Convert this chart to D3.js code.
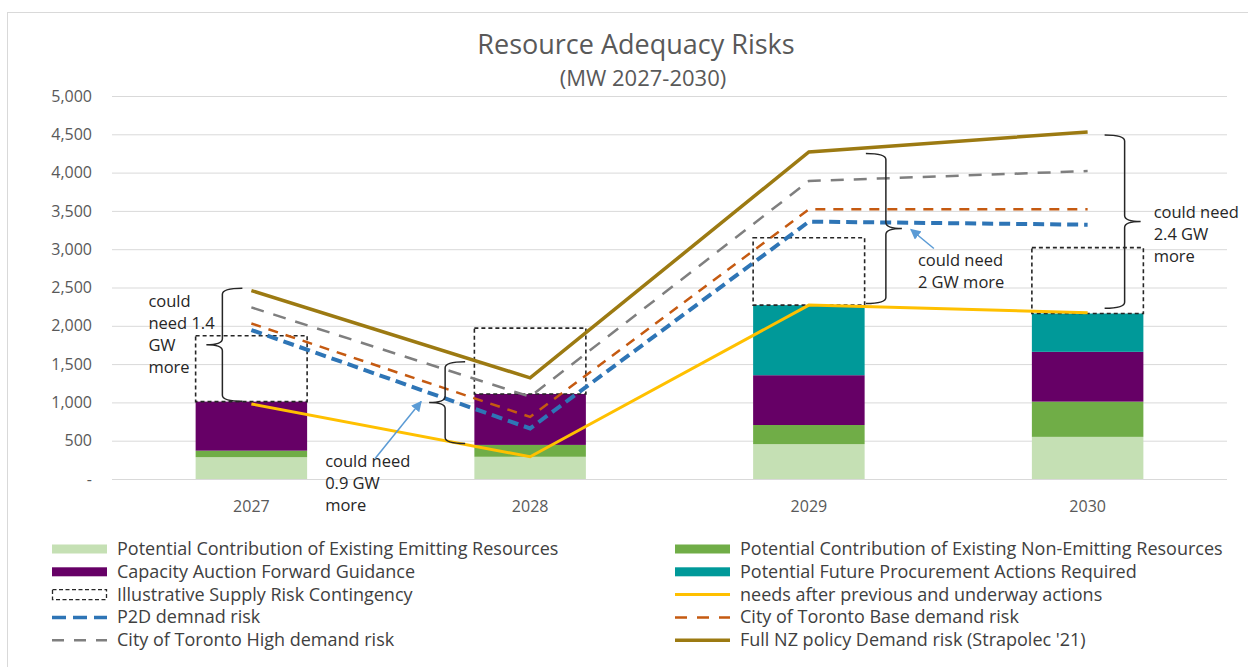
<!DOCTYPE html>
<html>
<head>
<meta charset="utf-8">
<script src="https://cdn.jsdelivr.net/npm/d3@7"></script>
<style>
  body { margin: 0; background: #fff; }
  text { font-family: "Open Sans", "DejaVu Sans", sans-serif; }
</style>
</head>
<body>
<div id="chart"></div>
<script>
// data (MW)
const years = ["2027", "2028", "2029", "2030"];
const emitting = [285, 290, 455, 550];
const nonEmitting = [85, 155, 250, 460];
const auctionGuidance = [640, 665, 650, 650];
const futureProcurement = [0, 0, 915, 500];
const contingency = [860, 860, 880, 860];
const needsAfter = [980, 290, 2270, 2170];
const p2dRisk = [1945, 660, 3360, 3320];
const torontoBase = [2030, 810, 3520, 3520];
const torontoHigh = [2240, 1075, 3890, 4020];
const fullNZ = [2460, 1320, 4270, 4530];
const yTicks = [0, 500, 1000, 1500, 2000, 2500, 3000, 3500, 4000, 4500, 5000];

// brace annotations
const braceYears = ["2027", "2028", "2029", "2030"];
const braceLow = [1015, 465, 2290, 2230];
const braceHigh = [2490, 1530, 4250, 4490];
const braceNotes = [
  ["could", "need 1.4", "GW", "more"],
  ["could need", "0.9 GW", "more"],
  ["could need", "2 GW more"],
  ["could need", "2.4 GW", "more"]
];

const W = 1248, H = 667;
const svg = d3.select("#chart").append("svg")
    .attr("width", W)
    .attr("height", H);

// outer frame
svg.append("rect")
    .attr("x", 7.5).attr("y", 12.5)
    .attr("width", W).attr("height", H)
    .attr("fill", "#fff")
    .attr("stroke", "#d9d9d9");

const x = d3.scaleBand()
    .domain(years)
    .range([112, 1227])
    .paddingInner(0.6)
    .paddingOuter(0.3);

const y = d3.scaleLinear()
    .domain([0, 5000])
    .range([479, 96]);

const cx = yr => x(yr) + x.bandwidth() / 2;

// title
svg.append("text")
    .attr("x", 636).attr("y", 54)
    .attr("text-anchor", "middle")
    .style("font-size", "27px")
    .style("fill", "#595959")
    .text("Resource Adequacy Risks");
svg.append("text")
    .attr("x", 643).attr("y", 86)
    .attr("text-anchor", "middle")
    .style("font-size", "22px")
    .style("fill", "#595959")
    .text("(MW 2027-2030)");

// grid + y axis
const yAxis = svg.append("g")
    .attr("transform", "translate(112,0)")
    .call(d3.axisLeft(y)
        .tickValues(yTicks)
        .tickSize(-1115)
        .tickPadding(20)
        .tickFormat(d => d === 0 ? "-" : d3.format(",")(d)));
yAxis.select(".domain").remove();
yAxis.selectAll("line").attr("stroke", "#d9d9d9");
yAxis.selectAll("text")
    .style("font-size", "16px")
    .style("fill", "#595959")
    .style("font-family", "'Open Sans', sans-serif");

// x axis labels
const xAxis = svg.append("g")
    .attr("transform", "translate(0,479)")
    .call(d3.axisBottom(x).tickSize(0).tickPadding(22));
xAxis.select(".domain").remove();
xAxis.selectAll("text")
    .style("font-size", "16px")
    .style("fill", "#595959")
    .style("font-family", "'Open Sans', sans-serif");

// stacked bars
const table = years.map((yr, i) => ({
  year: yr,
  emitting: emitting[i],
  nonEmitting: nonEmitting[i],
  auction: auctionGuidance[i],
  future: futureProcurement[i],
  contingency: contingency[i]
}));
const keys = ["emitting", "nonEmitting", "auction", "future", "contingency"];
const colors = {
  emitting: "#c5e0b4",
  nonEmitting: "#70ad47",
  auction: "#660066",
  future: "#009999"
};
const stacked = d3.stack().keys(keys)(table);

stacked.forEach(layer => {
  const isBox = layer.key === "contingency";
  svg.append("g").selectAll("rect")
      .data(layer.filter(d => d[1] > d[0]))
      .enter()
      .append("rect")
      .attr("x", d => x(d.data.year))
      .attr("y", d => y(d[1]))
      .attr("width", x.bandwidth())
      .attr("height", d => y(d[0]) - y(d[1]))
      .attr("fill", isBox ? "none" : colors[layer.key])
      .attr("stroke", isBox ? "#262626" : "none")
      .attr("stroke-width", isBox ? 1.6 : 0)
      .attr("stroke-dasharray", isBox ? "4,3" : null);
});

// lines
const line = d3.line()
    .x((d, i) => cx(years[i]))
    .y(d => y(d));

const lineSeries = [
  {values: needsAfter, color: "#ffc000", width: 3, dash: null, key: "11,6"},
  {values: p2dRisk, color: "#2e75b6", width: 4, dash: "11,6", key: "14,7"},
  {values: torontoBase, color: "#c55a11", width: 2.5, dash: "10,8", key: "12,10"},
  {values: torontoHigh, color: "#7f7f7f", width: 2.5, dash: "13,10", key: "12,10"},
  {values: fullNZ, color: "#9c7a12", width: 3.5, dash: null, key: null}
];

lineSeries.forEach(s => {
  svg.append("path")
      .datum(s.values)
      .attr("d", line)
      .attr("fill", "none")
      .attr("stroke", s.color)
      .attr("stroke-width", s.width)
      .attr("stroke-dasharray", s.dash);
});

// braces
function bracePath(bx, y0, y1, dir) {
  const arm = 20, tip = 16, r = 6;
  const ym = (y0 + y1) / 2;
  return `M${bx + dir * arm},${y0}` +
    `Q${bx},${y0} ${bx},${y0 + r}` +
    `L${bx},${ym - r}` +
    `Q${bx},${ym} ${bx - dir * tip},${ym}` +
    `Q${bx},${ym} ${bx},${ym + r}` +
    `L${bx},${y1 - r}` +
    `Q${bx},${y1} ${bx + dir * arm},${y1}`;
}

// offsets from band centre for each brace and its note
const braceLayout = [
  {dx: -29, dir: 1, tx: -103, ty: -38},
  {dx: -85, dir: 1, tx: -205, ty: 64},
  {dx: 77, dir: -1, tx: 109, ty: 37},
  {dx: 37, dir: -1, tx: 66, ty: -4}
];

svg.append("defs").append("marker")
    .attr("id", "arrow")
    .attr("viewBox", "0 0 10 10")
    .attr("refX", 9).attr("refY", 5)
    .attr("markerWidth", 7).attr("markerHeight", 7)
    .attr("orient", "auto")
    .append("path")
    .attr("d", "M0,0L10,5L0,10Z")
    .attr("fill", "#5b9bd5");

braceYears.forEach((yr, i) => {
  const L = braceLayout[i];
  const bx = cx(yr) + L.dx;
  const y0 = y(braceHigh[i]), y1 = y(braceLow[i]);
  const ym = (y0 + y1) / 2;
  svg.append("path")
      .attr("d", bracePath(bx, y0, y1, L.dir))
      .attr("fill", "none")
      .attr("stroke", "#262626")
      .attr("stroke-width", 1.5);

  const t = svg.append("text")
      .attr("x", cx(yr) + L.tx)
      .attr("y", ym + L.ty)
      .style("font-size", "16.5px")
      .style("fill", "#262626");
  braceNotes[i].forEach((ln, j) => {
    t.append("tspan")
        .attr("x", cx(yr) + L.tx)
        .attr("dy", j === 0 ? 0 : 22)
        .text(ln);
  });
});

// arrows from notes to braces
const tip1 = [cx("2028") - 85 - 16, (y(braceHigh[1]) + y(braceLow[1])) / 2];
svg.append("line")
    .attr("x1", tip1[0] - 54).attr("y1", tip1[1] + 56)
    .attr("x2", tip1[0] - 8).attr("y2", tip1[1] - 1)
    .attr("stroke", "#5b9bd5").attr("stroke-width", 1.5)
    .attr("marker-end", "url(#arrow)");
const tip2 = [cx("2029") + 77 + 16, (y(braceHigh[2]) + y(braceLow[2])) / 2];
svg.append("line")
    .attr("x1", tip2[0] + 32).attr("y1", tip2[1] + 20)
    .attr("x2", tip2[0] + 9).attr("y2", tip2[1] + 1)
    .attr("stroke", "#5b9bd5").attr("stroke-width", 1.5)
    .attr("marker-end", "url(#arrow)");

// legend
const legendItems = [
  {label: "Potential Contribution of Existing Emitting Resources", type: "rect", color: colors.emitting, col: 0, row: 0},
  {label: "Potential Contribution of Existing Non-Emitting Resources", type: "rect", color: colors.nonEmitting, col: 1, row: 0},
  {label: "Capacity Auction Forward Guidance", type: "rect", color: colors.auction, col: 0, row: 1},
  {label: "Potential Future Procurement Actions Required", type: "rect", color: colors.future, col: 1, row: 1},
  {label: "Illustrative Supply Risk Contingency", type: "box", color: "#262626", col: 0, row: 2},
  {label: "needs after previous and underway actions", type: "line", s: lineSeries[0], col: 1, row: 2},
  {label: "P2D demnad risk", type: "line", s: lineSeries[1], col: 0, row: 3},
  {label: "City of Toronto Base demand risk", type: "line", s: lineSeries[2], col: 1, row: 3},
  {label: "City of Toronto High demand risk", type: "line", s: lineSeries[3], col: 0, row: 4},
  {label: "Full NZ policy Demand risk (Strapolec '21)", type: "line", s: lineSeries[4], col: 1, row: 4}
];
const colX = [52, 675];
const legend = svg.append("g");
legendItems.forEach(it => {
  const gx = colX[it.col], gy = 549 + it.row * 22.8;
  const g = legend.append("g").attr("transform", `translate(${gx},${gy})`);
  if (it.type === "rect") {
    g.append("rect").attr("x", 0).attr("y", -4.5).attr("width", 55).attr("height", 9)
        .attr("fill", it.color);
  } else if (it.type === "box") {
    g.append("rect").attr("x", 0.5).attr("y", -5).attr("width", 54).attr("height", 10)
        .attr("fill", "none").attr("stroke", it.color).attr("stroke-width", 1.3)
        .attr("stroke-dasharray", "4,2.5");
  } else {
    g.append("line").attr("x1", 0).attr("x2", 55).attr("y1", 0).attr("y2", 0)
        .attr("stroke", it.s.color)
        .attr("stroke-width", Math.min(it.s.width, 3.5))
        .attr("stroke-dasharray", it.s.dash ? it.s.key : null);
  }
  g.append("text")
      .attr("x", 65).attr("y", 6)
      .style("font-size", "18px")
      .style("fill", "#404040")
      .text(it.label);
});
</script>
</body>
</html>
